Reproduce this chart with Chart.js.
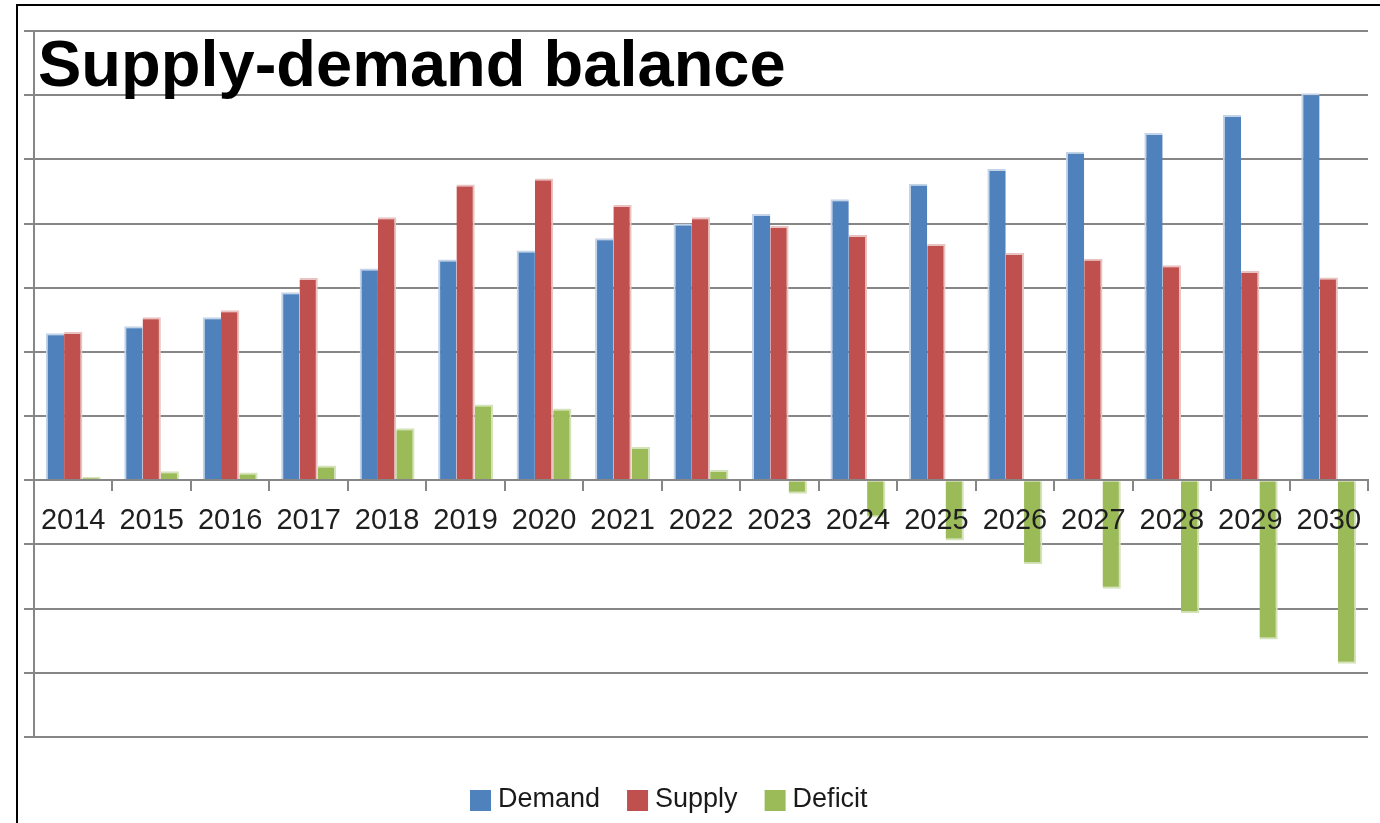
<!DOCTYPE html>
<html><head><meta charset="utf-8">
<script src="https://cdn.jsdelivr.net/npm/chart.js@4.4.1/dist/chart.umd.min.js"></script>
<style>html,body{margin:0;padding:0;background:#fff;}canvas{display:block;}</style>
</head><body>
<canvas id="c" width="1380" height="823"></canvas>
<script>
const TITLE = 'Supply-demand balance';
const years = ['2014','2015','2016','2017','2018','2019','2020','2021','2022','2023','2024','2025','2026','2027','2028','2029','2030'];
const demand  = [2.29, 2.40, 2.54, 2.93, 3.30, 3.44, 3.58, 3.77, 4.00, 4.15, 4.38, 4.62, 4.85, 5.12, 5.41, 5.69, 6.03];
const supply  = [2.31, 2.54, 2.65, 3.15, 4.10, 4.61, 4.70, 4.29, 4.10, 3.96, 3.82, 3.68, 3.54, 3.45, 3.35, 3.26, 3.16];
const deficit = [0.05, 0.14, 0.12, 0.23, 0.81, 1.18, 1.12, 0.52, 0.16, -0.21, -0.58, -0.94, -1.31, -1.69, -2.07, -2.48, -2.86];
const seriesNames = ['Demand', 'Supply', 'Deficit'];
const yMin = -4, yMax = 7, yStep = 1;

const GRID = '#868686';
const COLORS = ['#4F81BD', '#C0504D', '#9BBB59'];
const HALOS = ['#C3D3E8', '#E8C3C2', '#D5E3BA'];

const framePlugin = {
  id: 'frame',
  beforeDraw(chart) {
    const ctx = chart.ctx;
    ctx.save();
    ctx.fillStyle = '#fff';
    ctx.fillRect(0, 0, chart.width, chart.height);
    ctx.strokeStyle = '#000';
    ctx.lineWidth = 2;
    ctx.beginPath();
    ctx.moveTo(17, chart.height);
    ctx.lineTo(17, 5);
    ctx.lineTo(chart.width, 5);
    ctx.stroke();
    ctx.restore();
  }
};

const titlePlugin = {
  id: 'bigTitle',
  afterDraw(chart) {
    const ctx = chart.ctx;
    ctx.save();
    ctx.font = 'bold 65px "Liberation Sans", Arial, sans-serif';
    ctx.fillStyle = '#000';
    ctx.textBaseline = 'alphabetic';
    ctx.textAlign = 'left';
    ctx.fillText(TITLE, 38, 86);
    ctx.restore();
  }
};

const legendPlugin = {
  id: 'bottomLegend',
  afterDraw(chart) {
    const ctx = chart.ctx;
    ctx.save();
    ctx.font = '27px "Liberation Sans", Arial, sans-serif';
    ctx.textBaseline = 'middle';
    ctx.textAlign = 'left';
    let x = 470;
    const yc = 800;
    chart.data.datasets.forEach(ds => {
      ctx.fillStyle = ds.backgroundColor;
      ctx.fillRect(x, 790, 21, 21);
      x += 28;
      ctx.fillStyle = '#1a1a1a';
      ctx.fillText(ds.label, x, yc);
      x += ctx.measureText(ds.label).width + 27;
    });
    ctx.restore();
  }
};

const series = [demand, supply, deficit];
new Chart(document.getElementById('c'), {
  type: 'bar',
  data: {
    labels: years,
    datasets: series.map((d, i) => ({
      label: seriesNames[i],
      data: d,
      backgroundColor: COLORS[i],
      borderColor: HALOS[i],
      borderWidth: i === 0 ? {left: 2, top: 2, bottom: 2} : {right: 2, top: 2, bottom: 2},
      borderSkipped: 'start',
      barPercentage: 1.0,
      categoryPercentage: 0.7
    }))
  },
  options: {
    responsive: false,
    animation: false,
    devicePixelRatio: 1,
    layout: { padding: { left: 24, right: 12, top: 31, bottom: 86 } },
    plugins: { legend: { display: false }, title: { display: false }, tooltip: { enabled: false } },
    scales: {
      x: {
        position: { y: 0 },
        offset: true,
        grid: { display: true, drawOnChartArea: false, drawTicks: true, tickLength: 10, offset: true, color: GRID, lineWidth: 2, z: 1 },
        border: { display: true, color: GRID, width: 2, z: 1 },
        ticks: { z: 2, autoSkip: false, maxRotation: 0, padding: 13, color: '#1f1f1f', font: { family: '"Liberation Sans", Arial, sans-serif', size: 29 } }
      },
      y: {
        min: yMin, max: yMax,
        grid: { color: GRID, lineWidth: 2, drawTicks: true, tickLength: 10 },
        border: { display: true, color: GRID, width: 2 },
        ticks: { display: false, stepSize: yStep }
      }
    }
  },
  plugins: [framePlugin, titlePlugin, legendPlugin]
});
</script>
</body></html>
